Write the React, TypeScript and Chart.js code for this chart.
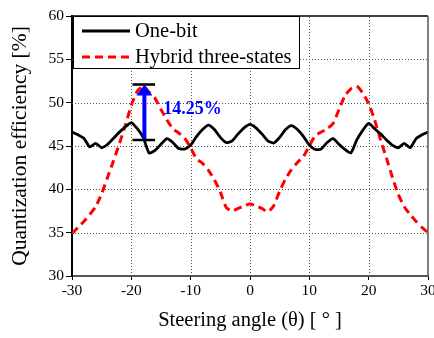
import React, { useEffect, useRef } from 'react';
import { Chart, registerables } from 'chart.js';

Chart.register(...registerables);

const angles = [
  -30, -29, -28, -27, -26, -25, -24, -23, -22, -21, -20, -19, -18, -17, -16, -15,
  -14, -13, -12, -11, -10, -9, -8, -7, -6, -5, -4, -3, -2, -1, 0, 1, 2, 3, 4, 5,
  6, 7, 8, 9, 10, 11, 12, 13, 14, 15, 16, 17, 18, 19, 20, 21, 22, 23, 24, 25, 26,
  27, 28, 29, 30,
];

const oneBit = [
  46.6, 46.3, 45.9, 44.9, 45.3, 44.8, 45.2, 45.9, 46.6, 47.2, 47.7, 47.0, 46.0, 44.2,
  44.5, 45.2, 45.85, 45.4, 44.7, 44.65, 45.1, 46.1, 46.9, 47.4, 46.9, 46.0, 45.4,
  45.6, 46.4, 47.1, 47.5, 47.1, 46.4, 45.6, 45.35, 46.0, 46.9, 47.35, 46.9, 46.1,
  45.1, 44.6, 44.65, 45.4, 45.85, 45.2, 44.6, 44.2, 45.7, 46.8, 47.6, 47.0, 46.4,
  45.7, 45.1, 44.8, 45.3, 44.8, 45.85, 46.3, 46.6,
];

const hybrid = [
  34.9, 35.6, 36.3, 37.1, 38.0, 39.5, 41.4, 43.3, 45.3, 47.4, 49.7, 51.3, 51.9, 51.2,
  50.5, 49.2, 48.0, 47.0, 46.5, 45.9, 44.8, 43.5, 43.0, 42.2, 41.1, 39.7, 37.9, 37.5,
  37.8, 38.1, 38.3, 38.1, 37.8, 37.4, 38.1, 39.8, 41.2, 42.3, 43.1, 43.8, 45.0, 46.2,
  46.6, 47.0, 47.6, 49.2, 50.8, 51.6, 51.9, 51.1, 49.9, 48.0, 45.7, 43.6, 41.4, 39.4,
  38.0, 37.1, 36.3, 35.6, 35.0,
];

const seriesLabels = ['One-bit', 'Hybrid three-states'];
const xTicks = [-30, -20, -10, 0, 10, 20, 30];
const yTicks = [30, 35, 40, 45, 50, 55, 60];
const xTitle = 'Steering angle (θ) [ ° ]';
const yTitle = 'Quantization efficiency [%]';

// annotation: arrow between the two efficiency levels
const arrowAngle = [-17.8];
const arrowLevels = [45.7, 52.1];
const barAngles = [-19.8, -16.0];
const gainLabel = ['14.25%'];
const gainLabelPos = [-14.6, 49.2];

const SERIF = '"Liberation Serif", "Times New Roman", serif';

const gridPlugin = {
  id: 'dottedGrid',
  beforeDatasetsDraw(chart: any) {
    const { ctx, chartArea, scales } = chart;
    ctx.save();
    ctx.strokeStyle = '#555';
    ctx.lineWidth = 1;
    ctx.setLineDash([1, 2]);
    scales.x.ticks.forEach((t: any) => {
      if (t.value <= scales.x.min || t.value >= scales.x.max) return;
      const x = Math.round(scales.x.getPixelForValue(t.value)) + 0.5;
      ctx.beginPath();
      ctx.moveTo(x, chartArea.bottom);
      ctx.lineTo(x, chartArea.top);
      ctx.stroke();
    });
    scales.y.ticks.forEach((t: any) => {
      if (t.value <= scales.y.min || t.value >= scales.y.max) return;
      const y = Math.round(scales.y.getPixelForValue(t.value)) + 0.5;
      ctx.beginPath();
      ctx.moveTo(chartArea.left, y);
      ctx.lineTo(chartArea.right, y);
      ctx.stroke();
    });
    ctx.restore();
  },
};

const legendPlugin = {
  id: 'boxLegend',
  afterDatasetsDraw(chart: any) {
    const { ctx, chartArea, scales } = chart;
    const xs = scales.x;
    const ys = scales.y;

    // annotation
    ctx.save();
    const ax = xs.getPixelForValue(arrowAngle[0]);
    const yLow = ys.getPixelForValue(arrowLevels[0]);
    const yHigh = ys.getPixelForValue(arrowLevels[1]);
    const bx1 = xs.getPixelForValue(barAngles[0]);
    const bx2 = xs.getPixelForValue(barAngles[1]);
    ctx.strokeStyle = '#0000ff';
    ctx.lineWidth = 4;
    ctx.beginPath();
    ctx.moveTo(ax, yLow);
    ctx.lineTo(ax, yHigh + 9);
    ctx.stroke();
    ctx.fillStyle = '#0000ff';
    ctx.beginPath();
    ctx.moveTo(ax, yHigh);
    ctx.lineTo(ax - 8, yHigh + 11);
    ctx.lineTo(ax + 8, yHigh + 11);
    ctx.closePath();
    ctx.fill();
    ctx.strokeStyle = '#000';
    ctx.lineWidth = 2.5;
    ctx.beginPath();
    ctx.moveTo(bx1, yHigh);
    ctx.lineTo(bx2, yHigh);
    ctx.moveTo(bx1, yLow);
    ctx.lineTo(bx2, yLow);
    ctx.stroke();
    ctx.fillStyle = '#0000ff';
    ctx.font = `bold 18px ${SERIF}`;
    ctx.textAlign = 'left';
    ctx.textBaseline = 'middle';
    ctx.fillText(gainLabel[0], xs.getPixelForValue(gainLabelPos[0]), ys.getPixelForValue(gainLabelPos[1]));
    ctx.restore();

    // legend box
    ctx.save();
    const x0 = Math.round(chartArea.left) + 1;
    const y0 = Math.round(chartArea.top);
    const w = 226;
    const h = 52;
    ctx.fillStyle = '#fff';
    ctx.fillRect(x0, y0, w, h);
    ctx.strokeStyle = '#000';
    ctx.lineWidth = 1;
    ctx.strokeRect(x0 + 0.5, y0 + 0.5, w, h);
    const rows = [y0 + 15, y0 + 41];
    chart.data.datasets.forEach((ds: any, i: number) => {
      ctx.strokeStyle = ds.borderColor;
      ctx.lineWidth = ds.borderWidth;
      ctx.setLineDash(ds.borderDash || []);
      ctx.beginPath();
      ctx.moveTo(x0 + 9, rows[i]);
      ctx.lineTo(x0 + 57, rows[i]);
      ctx.stroke();
      ctx.setLineDash([]);
      ctx.fillStyle = '#000';
      ctx.font = `20.5px ${SERIF}`;
      ctx.textAlign = 'left';
      ctx.textBaseline = 'middle';
      ctx.fillText(ds.label, x0 + 62, rows[i] + 1);
    });
    ctx.restore();
  },
  afterDraw(chart: any) {
    const { ctx, chartArea } = chart;
    ctx.save();
    ctx.lineWidth = 1.5;
    ctx.strokeStyle = '#000';
    ctx.beginPath();
    ctx.moveTo(chartArea.left, chartArea.top);
    ctx.lineTo(chartArea.right, chartArea.top);
    ctx.stroke();
    ctx.strokeStyle = '#555';
    ctx.beginPath();
    ctx.moveTo(chartArea.right, chartArea.top);
    ctx.lineTo(chartArea.right, chartArea.bottom);
    ctx.stroke();
    ctx.restore();
  },
};

export default function App() {
  const ref = useRef<HTMLCanvasElement>(null);
  useEffect(() => {
    document.body.style.margin = '0';
    const canvas = ref.current;
    if (!canvas) return;
    const chart = new Chart(canvas, {
      type: 'line',
      data: {
        datasets: [
          {
            label: seriesLabels[0],
            data: angles.map((a, i) => ({ x: a, y: oneBit[i] })),
            borderColor: '#000',
            borderWidth: 2.8,
            pointRadius: 0,
            tension: 0.2,
            fill: false,
          },
          {
            label: seriesLabels[1],
            data: angles.map((a, i) => ({ x: a, y: hybrid[i] })),
            borderColor: '#ff0000',
            borderWidth: 3,
            borderDash: [8, 5],
            pointRadius: 0,
            tension: 0.2,
            fill: false,
          },
        ],
      },
      options: {
        animation: false,
        responsive: false,
        events: [],
        layout: { padding: { left: 0, right: 6, top: 16, bottom: 0 } },
        plugins: { legend: { display: false }, tooltip: { enabled: false } },
        scales: {
          x: {
            type: 'linear',
            min: -30,
            max: 30,
            afterBuildTicks: (s: any) => {
              s.ticks = xTicks.map((v) => ({ value: v }));
            },
            afterFit: (s: any) => {
              s.height = 62;
              s.paddingLeft = 0;
              s.paddingRight = 0;
            },
            ticks: {
              color: '#000',
              font: { family: SERIF, size: 15.5 },
              padding: 2,
              maxRotation: 0,
              autoSkip: false,
            },
            grid: {
              drawOnChartArea: false,
              lineWidth: 1,
              color: '#000',
              tickColor: '#000',
              tickLength: 4,
            },
            border: { display: true, color: '#555', width: 2 },
            title: {
              display: true,
              text: xTitle,
              color: '#000',
              font: { family: SERIF, size: 20.5 },
              padding: { top: 0, bottom: 5 },
            },
          },
          y: {
            type: 'linear',
            min: 30,
            max: 60,
            afterBuildTicks: (s: any) => {
              s.ticks = yTicks.map((v) => ({ value: v }));
            },
            afterFit: (s: any) => {
              s.width = 72;
              s.paddingTop = 0;
              s.paddingBottom = 0;
            },
            ticks: {
              color: '#000',
              font: { family: SERIF, size: 15.5 },
              padding: 2,
            },
            grid: {
              drawOnChartArea: false,
              lineWidth: 1,
              color: '#000',
              tickColor: '#000',
              tickLength: 6,
            },
            border: { display: true, color: '#000', width: 2 },
            title: {
              display: true,
              text: yTitle,
              color: '#000',
              font: { family: SERIF, size: 21.5 },
              padding: { top: 7, bottom: 0 },
            },
          },
        },
      },
      plugins: [gridPlugin, legendPlugin],
    });
    return () => chart.destroy();
  }, []);
  return (
    <div style={{ width: 434, height: 338 }}>
      <canvas ref={ref} width={434} height={338} style={{ width: 434, height: 338, display: 'block' }} />
    </div>
  );
}
